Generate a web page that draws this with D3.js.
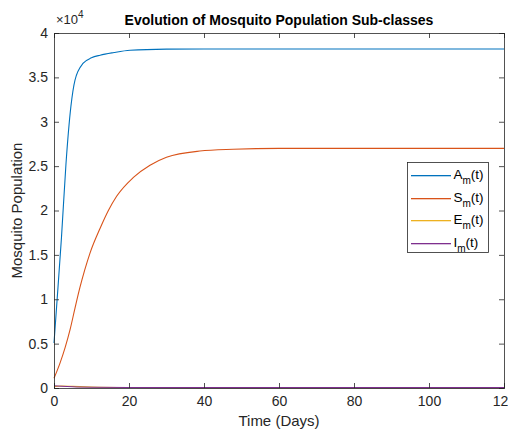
<!DOCTYPE html>
<html>
<head>
<meta charset="utf-8">
<script src="https://cdn.jsdelivr.net/npm/d3@7"></script>
<style>
  body { margin: 0; background: #fff; }
  svg text { font-family: "Liberation Sans", Arial, sans-serif; }
</style>
</head>
<body>
<div id="chart"></div>
<script>
// values (population units)
var tA = [0, 0.7, 2, 3.2, 4.5, 5.6, 7.8, 10, 12.3, 16, 20.3, 30, 40, 60, 80, 100, 120];
var adultA = [5070, 9200, 17000, 25300, 31700, 34700, 36600, 37200, 37500, 37800, 38050, 38180, 38200, 38200, 38200, 38200, 38200];

var tS = [0, 1.6, 3, 4.3, 5.6, 6.9, 8.2, 9.6, 12.3, 14.5, 16.7, 21.1, 25.6, 30, 38.9, 47.8, 60, 80, 100, 120];
var susS = [1090, 2800, 4600, 6600, 9000, 11300, 13300, 15200, 18000, 20000, 21600, 23700, 25100, 26000, 26700, 26900, 27000, 27000, 27000, 27000];

var tE = [0, 2, 5, 10, 20, 40, 80, 120];
var expE = [150, 220, 180, 110, 60, 40, 35, 35];

var tI = [0, 2, 5, 10, 20, 40, 80, 120];
var infI = [250, 200, 140, 90, 60, 45, 40, 40];

var xTicks = [0, 20, 40, 60, 80, 100, 120];
var yTicks = [0, 0.5, 1, 1.5, 2, 2.5, 3, 3.5, 4];

var seriesNames = ["A", "S", "E", "I"];
var seriesColors = ["#0072BD", "#D95319", "#EDB120", "#7E2F8E"];

var series = [
  { name: seriesNames[0], t: tA, v: adultA },
  { name: seriesNames[1], t: tS, v: susS },
  { name: seriesNames[2], t: tE, v: expE },
  { name: seriesNames[3], t: tI, v: infI }
];

var width = 508, height = 433;
var margin = {top: 33, right: 4, bottom: 45, left: 54};
var w = width - margin.left - margin.right;
var h = height - margin.top - margin.bottom;

var svg = d3.select("#chart").append("svg")
    .attr("width", width)
    .attr("height", height);

var g = svg.append("g")
    .attr("transform", "translate(" + margin.left + "," + margin.top + ")");

var x = d3.scaleLinear().domain([0, 120]).range([0, w]);
var y = d3.scaleLinear().domain([0, 4]).range([h, 0]);

var axisColor = "#262626";

// lines
var line = d3.line()
    .x(function(d) { return x(d[0]); })
    .y(function(d) { return y(d[1] / 1e4); })
    .curve(d3.curveMonotoneX);

series.forEach(function(s, i) {
  var pts = s.t.map(function(t, j) { return [t, s.v[j]]; });
  g.append("path")
    .datum(pts)
    .attr("fill", "none")
    .attr("stroke", seriesColors[i])
    .attr("stroke-width", 1.1)
    .attr("d", line);
});

// axes with inward ticks
g.append("g")
    .attr("transform", "translate(0," + h + ")")
    .call(d3.axisBottom(x).tickValues(xTicks).tickSize(-5).tickPadding(8));
g.append("g")
    .call(d3.axisLeft(y).tickValues(yTicks).tickSize(-5).tickPadding(6)
      .tickFormat(function(d) { return d3.format("")(d); }));
g.append("g")
    .call(d3.axisTop(x).tickValues(xTicks).tickSize(-5).tickFormat(""));
g.append("g")
    .attr("transform", "translate(" + w + ",0)")
    .call(d3.axisRight(y).tickValues(yTicks).tickSize(-5).tickFormat(""));

g.selectAll(".domain").attr("stroke", axisColor).attr("stroke-width", 0.8);
g.selectAll(".tick line").attr("stroke", axisColor).attr("stroke-width", 0.8);
g.selectAll(".tick text")
    .attr("fill", axisColor)
    .style("font-size", "14px");

// exponent label
var expo = svg.append("text")
    .attr("x", margin.left + 2)
    .attr("y", 24)
    .attr("fill", axisColor)
    .style("font-size", "13px");
expo.append("tspan").text("\u00d710");
expo.append("tspan").attr("dy", -6).style("font-size", "10px").text("4");

// title
svg.append("text")
    .attr("x", margin.left + w / 2)
    .attr("y", 25)
    .attr("text-anchor", "middle")
    .style("font-size", "14px")
    .style("font-weight", "bold")
    .attr("fill", "#000")
    .text("Evolution of Mosquito Population Sub-classes");

// axis labels
svg.append("text")
    .attr("x", margin.left + w / 2)
    .attr("y", 426)
    .attr("text-anchor", "middle")
    .attr("fill", axisColor)
    .style("font-size", "15px")
    .text("Time (Days)");

svg.append("text")
    .attr("transform", "translate(22," + (margin.top + h / 2) + ") rotate(-90)")
    .attr("text-anchor", "middle")
    .attr("fill", axisColor)
    .style("font-size", "15px")
    .text("Mosquito Population");

// legend
var lg = svg.append("g").attr("transform", "translate(407.5,162.5)");
lg.append("rect")
    .attr("width", 81)
    .attr("height", 90)
    .attr("fill", "#fff")
    .attr("stroke", axisColor)
    .attr("stroke-width", 0.8);
seriesNames.forEach(function(n, i) {
  var yy = Math.round(13 + i * 22.5);
  lg.append("rect")
    .attr("x", 3.5).attr("width", 40)
    .attr("y", yy - 0.5).attr("height", 1.3)
    .attr("fill", seriesColors[i]);
  var t = lg.append("text")
    .attr("x", 46)
    .attr("y", yy + 3)
    .attr("fill", "#000")
    .style("font-size", "13.5px");
  t.append("tspan").text(n);
  t.append("tspan").attr("dy", 5).style("font-size", "10px").text("m");
  t.append("tspan").attr("dy", -5).text("(t)");
});
</script>
</body>
</html>
